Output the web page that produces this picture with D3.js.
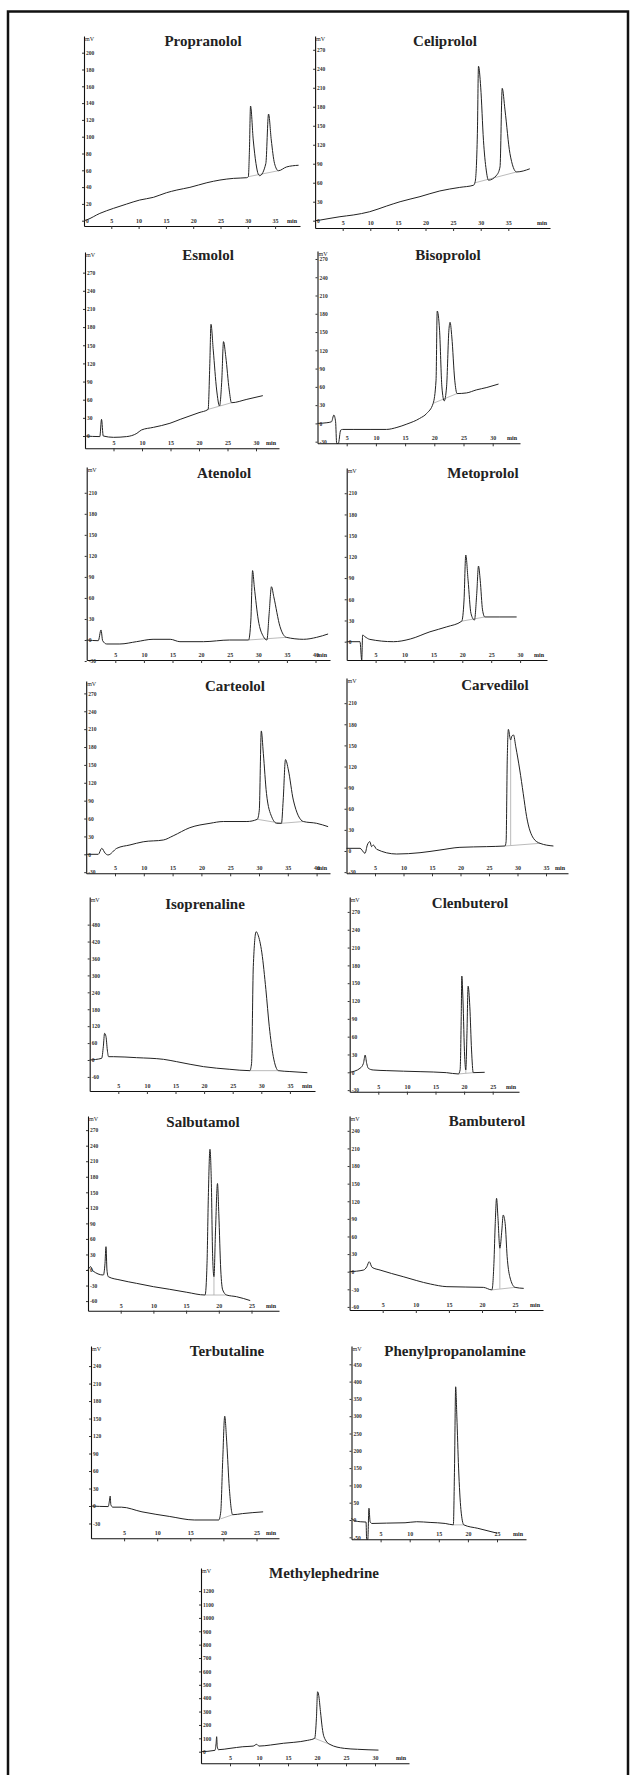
<!DOCTYPE html>
<html>
<head>
<meta charset="utf-8">
<script src="https://cdn.jsdelivr.net/npm/d3@7/dist/d3.min.js"></script>
<style>
body { margin: 0; background: #fff; }
svg text { font-family: "Liberation Serif", "DejaVu Serif", serif; }
</style>
</head>
<body>
<div id="chart"></div>
<script>
// retention time (min) / detector signal (mV)
var xTicks25 = [5, 10, 15, 20, 25];
var xTicks30 = [5, 10, 15, 20, 25, 30];
var xTicks35 = [5, 10, 15, 20, 25, 30, 35];
var xTicks40 = [5, 10, 15, 20, 25, 30, 35, 40];

var propranololY = [0, 20, 40, 60, 80, 100, 120, 140, 160, 180, 200];
var celiprololY = [0, 30, 60, 90, 120, 150, 180, 210, 240, 270];
var esmololY = [0, 30, 60, 90, 120, 150, 180, 210, 240, 270];
var bisoprololY = [-30, 0, 30, 60, 90, 120, 150, 180, 210, 240, 270];
var atenololY = [-30, 0, 30, 60, 90, 120, 150, 180, 210];
var metoprololY = [0, 30, 60, 90, 120, 150, 180, 210];
var carteololY = [-30, 0, 30, 60, 90, 120, 150, 180, 210, 240, 270];
var carvedilolY = [-30, 0, 30, 60, 90, 120, 150, 180, 210];
var isoprenalineY = [-60, 0, 60, 120, 180, 240, 300, 360, 420, 480];
var clenbuterolY = [-30, 0, 30, 60, 90, 120, 150, 180, 210, 240, 270];
var salbutamolY = [-60, -30, 0, 30, 60, 90, 120, 150, 180, 210, 240, 270];
var bambuterolY = [-60, -30, 0, 30, 60, 90, 120, 150, 180, 210, 240];
var terbutalineY = [-30, 0, 30, 60, 90, 120, 150, 180, 210, 240];
var phenylpropanolamineY = [-50, 0, 50, 100, 150, 200, 250, 300, 350, 400, 450];
var methylephedrineY = [0, 100, 200, 300, 400, 500, 600, 700, 800, 900, 1000, 1100, 1200];

var propranololTrace = [[0, 0], [0.5, 1], [2.9, 8.7], [5.4, 14.7], [7.8, 19.8], [10.2, 24.6], [12.7, 27.8],
  [15.1, 33.3], [17, 36.5], [19.4, 39.7], [22.5, 45.2], [24.9, 48.4], [27.4, 50.4], [29.8, 51.2],
  [30.1, 52.4], [30.3, 84], [30.5, 136.5], [31, 96], [31.5, 68], [31.9, 55.6], [32.2, 53.6],
  [33.3, 68], [33.8, 127], [34.3, 96], [34.9, 68], [35.6, 59.5], [37.1, 64], [39.3, 66]];
var celiprololTrace = [[0, 0], [0.9, 1], [2.7, 3.7], [4.5, 6.3], [6.9, 9], [9.9, 14.2], [12.9, 23],
  [15.4, 30], [19, 38], [22.6, 47], [26.2, 52.6], [28.7, 56], [29, 61.6], [29.4, 138], [29.6, 244],
  [30, 211], [30.5, 127], [31, 80], [31.4, 64], [32.9, 72], [33.5, 85], [33.9, 209], [34.4, 175],
  [35.3, 106], [36.5, 77], [38.9, 82]];
var esmololTrace = [[0, 0], [2.6, -1], [2.9, 27.5], [3.2, 0], [5, -2.2], [7.3, -1], [9.1, 4.4], [9.9, 9.9],
  [12, 14.3], [14.9, 21], [16.7, 27.5], [20, 38.6], [21.6, 44], [21.9, 120], [22.1, 184.6], [22.5, 142],
  [23.1, 76], [23.6, 49.6], [24, 92.6], [24.3, 156], [24.7, 131], [25.3, 76], [25.7, 55], [28.4, 60.6],
  [31.2, 66.7]];
var bisoprololTrace = [[0, 0], [1.6, 1.1], [2.4, 2.7], [2.8, 13.7], [3.1, 2.7], [3.28, -32.8], [3.57, -32.8],
  [3.97, -11], [4.3, -9.9], [6.1, -9.9], [9, -9.9], [11.8, -9.9], [13.6, -6.6], [15.3, -1.1], [17.5, 8.2],
  [18.7, 16.4], [19.8, 32.8], [20.3, 71], [20.5, 184.5], [20.9, 153], [21.3, 60], [21.7, 37], [22.1, 60],
  [22.5, 153], [22.7, 166], [23, 142], [23.5, 71], [23.9, 49], [25.5, 50], [27.2, 55], [29, 59], [31, 64.6]];
var atenololTrace = [[0, 0], [2.03, -1], [2.5, 14.3], [2.79, -1], [3.5, -5.7], [5.8, -5.7], [8.7, -2.4],
  [11.6, 1], [14.6, 1], [16.3, -2.4], [20.4, -2.4], [25, 0], [28.3, 0], [28.7, 28.5], [29, 99], [29.3, 76],
  [30, 28.5], [30.9, 4.8], [31.5, 0], [31.9, 38], [32.3, 76], [32.7, 62], [33.8, 19], [34.9, 3.8],
  [37.9, 1], [40.2, 3.8], [42.2, 8.6]];
var metoprololTrace = [[0, 0], [2.3, 0], [2.6, -26], [2.76, 9.4], [3.17, 7], [4, 3.3], [8.1, 0], [11, 3.8],
  [14.4, 14], [17.3, 21], [19.9, 29], [20.3, 59], [20.6, 122.6], [21, 87], [21.5, 40], [22.1, 30.6],
  [22.5, 68], [22.8, 107], [23.1, 87], [23.5, 45], [23.9, 35], [26.5, 35], [29.4, 35]];
var carteololTrace = [[0, 0], [2.1, 0], [2.7, 10], [3.3, 1.7], [3.8, -1.1], [5.3, 10], [7.6, 15.7], [9.9, 21],
  [13.4, 24], [15.1, 31], [18, 44.7], [21.5, 52], [23.8, 55], [27.9, 55], [29.7, 58.7], [30.05, 74],
  [30.4, 207], [30.75, 169.5], [31.3, 102], [32.2, 63], [33.1, 52], [33.9, 52], [34.2, 91], [34.6, 159],
  [35.1, 141.5], [35.96, 91], [37.7, 55], [40, 52], [42, 46.4]];
var carvedilolTrace = [[0, 3.8], [2.37, 3.8], [3.25, -3.3], [3.65, 8.5], [4.1, 13.3], [4.4, 6.2], [4.7, 8.5],
  [5.3, 2.4], [8.8, -4.3], [12.9, -2.4], [16.4, 1.4], [19.9, 5.2], [24.6, 6.2], [27.8, 7.1], [28, 13.3],
  [28.2, 129], [28.4, 172.8], [28.7, 160], [28.8, 157.7], [29, 163], [29.3, 164.8], [29.7, 148],
  [30.4, 115], [31, 82], [31.6, 48.8], [32.8, 18], [33.95, 10.9], [36.3, 7.1]];
var isoprenalineTrace = [[0, 0], [2.09, 5.9], [2.38, 47], [2.6, 94.6], [2.85, 82.7], [3.08, 35.5], [3.3, 11.8],
  [4.13, 11.8], [8.2, 8.3], [12.9, 2.4], [15.2, -5.9], [19.9, -23.6], [24.5, -33], [28, -37.8],
  [28.3, -11.8], [28.6, 331], [29.1, 455], [29.4, 445], [30.1, 380], [30.8, 250], [31.4, 118], [32.1, 11.8],
  [33, -37.8], [35, -41], [38.05, -45]];
var clenbuterolTrace = [[0, 0], [1.8, 6.7], [2.4, 15], [2.7, 29], [2.97, 15], [3.26, 6.7], [4.1, 3.9],
  [6.5, 2.8], [12.3, 1.1], [16.9, -0.6], [19, -2.8], [19.3, 3.9], [19.5, 93.7], [19.6, 162], [19.8, 122],
  [20.1, 26], [20.3, 3.9], [20.5, 65.7], [20.7, 145], [21, 110.5], [21.3, 37.6], [21.6, -0.6], [23.6, 0]];
var salbutamolTrace = [[0, 0], [0.41, 6.4], [0.71, -1.3], [2.35, -9.7], [2.6, 12.9], [2.75, 45], [2.9, 0],
  [3.1, -12.9], [4.9, -19.3], [7.4, -25.7], [10, -32.2], [12.5, -37.3], [15.1, -43], [17.9, -48.3],
  [18.2, 12.9], [18.4, 141.6], [18.65, 233], [18.85, 174], [19.06, 25.7], [19.26, -12.9], [19.5, 77],
  [19.8, 167], [20, 109], [20.3, 0], [20.6, -38.6], [21.2, -48.3], [22.7, -51.5], [24.8, -59]];
var bambuterolTrace = [[0, 0], [2.1, 2.8], [2.6, 8.5], [2.96, 17], [3.4, 7.4], [4.6, 2.8], [8.1, -8.5],
  [12.2, -21], [14.7, -25.5], [20.2, -26.7], [21.5, -31], [21.8, 14], [22, 82], [22.2, 125], [22.4, 94],
  [22.7, 40], [23, 71], [23.2, 96.5], [23.5, 82], [23.8, 25.5], [24.2, -8.5], [25, -26.7], [26.3, -28.4]];
var terbutalineTrace = [[0, 0], [2.6, -1], [2.8, 10], [2.9, 17], [3, 2], [3.3, -2], [4.6, -2], [7.7, -10],
  [11.9, -18], [15.6, -24], [19.3, -24], [19.6, -10], [19.9, 80], [20.2, 154], [20.5, 110], [20.9, 30],
  [21.4, -15], [22.9, -13], [26, -10]];
var phenylpropanolamineTrace = [[0, 5], [0.5, -2], [1.5, -5], [2.5, -6], [2.6, -56], [2.8, -56], [3, 34],
  [3.2, -5], [3.5, -10], [6, -9], [9.2, -8], [11.2, -5], [13.5, -7], [16.1, -10], [17.5, -14], [17.7, 150],
  [17.9, 385], [18.1, 300], [18.4, 150], [18.8, 30], [19.3, -14], [21.7, -24], [25, -38]];
var methylephedrineTrace = [[0, 0], [2.4, 10], [2.6, 60], [2.7, 112], [2.8, 40], [3, 15], [5, 25], [7.2, 37],
  [9, 42], [9.6, 55], [10, 42], [12, 50], [14.2, 63], [16, 70], [18.4, 85], [19.6, 100], [19.9, 250],
  [20.1, 448], [20.3, 420], [20.6, 300], [20.9, 180], [21.2, 112], [22.2, 55], [24.7, 25], [27, 18],
  [30.6, 12]];

// integration baselines [t1, mV1, t2, mV2] and peak drop lines [t, mV top, mV bottom]
var propranololBase = [[30.1, 52.4, 35.6, 59.5]];
var celiprololBase = [[29, 60, 36.5, 77]];
var esmololBase = [[21.6, 44, 25.7, 55]];
var bisoprololBase = [[19.8, 33, 23.9, 49]];
var atenololBase = [[28.3, 0, 34.9, 3.8]];
var metoprololBase = [[19.9, 29, 23.9, 35]];
var carteololBase = [[29.7, 58.7, 33.9, 52], [33.9, 52, 37.7, 55]];
var carvedilolBase = [[27.8, 7.1, 33.95, 10.9]];
var isoprenalineBase = [[28, -37.8, 33, -37.8]];
var clenbuterolBase = [[19, -2.8, 21.6, -0.6]];
var salbutamolBase = [[17.9, -48.3, 21.2, -48.3]];
var bambuterolBase = [[21.5, -31, 25, -26.7]];
var terbutalineBase = [[19.6, -22, 21.4, -15]];
var phenylpropanolamineBase = [[17.5, -14, 19.3, -14]];
var methylephedrineBase = [[19.6, 100, 22.2, 55]];
var carvedilolDrops = [[28.8, 157.7, 8]];
var clenbuterolDrops = [[20.3, 3.9, -1.8]];
var salbutamolDrops = [[19.26, -12.9, -48.3]];
var bambuterolDrops = [[22.7, 40, -29]];

// panel placement on the page (px)
var panels = [
  {title: "Propranolol", trace: propranololTrace, yTicks: propranololY, xTicks: xTicks35, base: propranololBase, drops: [],
    tx: 203, ty: 46, left: 84, ppm: 5.46, end: 300, zeroY: 220.7, ppv: 0.84, axisY: 226, top: 36},
  {title: "Celiprolol", trace: celiprololTrace, yTicks: celiprololY, xTicks: xTicks35, base: celiprololBase, drops: [],
    tx: 445, ty: 46, left: 315.1, ppm: 5.52, end: 550, zeroY: 220.7, ppv: 0.633, axisY: 228, top: 36},
  {title: "Esmolol", trace: esmololTrace, yTicks: esmololY, xTicks: xTicks30, base: esmololBase, drops: [],
    tx: 208, ty: 260, left: 85, ppm: 5.7, end: 279, zeroY: 436, ppv: 0.605, axisY: 448.3, top: 252},
  {title: "Bisoprolol", trace: bisoprololTrace, yTicks: bisoprololY, xTicks: xTicks30, base: bisoprololBase, drops: [],
    tx: 448, ty: 260, left: 317.5, ppm: 5.84, end: 520, zeroY: 423.4, ppv: 0.609, axisY: 443.3, top: 251},
  {title: "Atenolol", trace: atenololTrace, yTicks: atenololY, xTicks: xTicks40, base: atenololBase, drops: [],
    tx: 224, ty: 478, left: 86.7, ppm: 5.72, end: 330, zeroY: 640, ppv: 0.701, axisY: 660, top: 467},
  {title: "Metoprolol", trace: metoprololTrace, yTicks: metoprololY, xTicks: xTicks30, base: metoprololBase, drops: [],
    tx: 483, ty: 478, left: 346.7, ppm: 5.78, end: 547, zeroY: 641.7, ppv: 0.707, axisY: 660, top: 468},
  {title: "Carteolol", trace: carteololTrace, yTicks: carteololY, xTicks: xTicks40, base: carteololBase, drops: [],
    tx: 235, ty: 691, left: 86.2, ppm: 5.76, end: 330, zeroY: 854.3, ppv: 0.596, axisY: 873.3, top: 681},
  {title: "Carvedilol", trace: carvedilolTrace, yTicks: carvedilolY, xTicks: xTicks35, base: carvedilolBase, drops: carvedilolDrops,
    tx: 495, ty: 690, left: 346.5, ppm: 5.7, end: 568, zeroY: 851, ppv: 0.704, axisY: 873.3, top: 678},
  {title: "Isoprenaline", trace: isoprenalineTrace, yTicks: isoprenalineY, xTicks: xTicks35, base: isoprenalineBase, drops: [],
    tx: 205, ty: 909, left: 89.7, ppm: 5.72, end: 315, zeroY: 1060, ppv: 0.282, axisY: 1091, top: 897},
  {title: "Clenbuterol", trace: clenbuterolTrace, yTicks: clenbuterolY, xTicks: xTicks25, base: clenbuterolBase, drops: clenbuterolDrops,
    tx: 470, ty: 908, left: 349.7, ppm: 5.72, end: 519, zeroY: 1072.3, ppv: 0.594, axisY: 1091.7, top: 897},
  {title: "Salbutamol", trace: salbutamolTrace, yTicks: salbutamolY, xTicks: xTicks25, base: salbutamolBase, drops: salbutamolDrops,
    tx: 203, ty: 1127, left: 88, ppm: 6.54, end: 279, zeroY: 1270, ppv: 0.518, axisY: 1310.7, top: 1116},
  {title: "Bambuterol", trace: bambuterolTrace, yTicks: bambuterolY, xTicks: xTicks25, base: bambuterolBase, drops: bambuterolDrops,
    tx: 487, ty: 1126, left: 349.6, ppm: 6.62, end: 543, zeroY: 1271.7, ppv: 0.587, axisY: 1310, top: 1116},
  {title: "Terbutaline", trace: terbutalineTrace, yTicks: terbutalineY, xTicks: xTicks25, base: terbutalineBase, drops: [],
    tx: 227, ty: 1356, left: 91, ppm: 6.62, end: 279, zeroY: 1506, ppv: 0.583, axisY: 1538.3, top: 1346},
  {title: "Phenylpropanolamine", trace: phenylpropanolamineTrace, yTicks: phenylpropanolamineY, xTicks: xTicks25, base: phenylpropanolamineBase, drops: [],
    tx: 455, ty: 1356, left: 351.5, ppm: 5.82, end: 526, zeroY: 1520, ppv: 0.346, axisY: 1539.3, top: 1346},
  {title: "Methylephedrine", trace: methylephedrineTrace, yTicks: methylephedrineY, xTicks: xTicks30, base: methylephedrineBase, drops: [],
    tx: 324, ty: 1578, left: 201, ppm: 5.8, end: 409, zeroY: 1751.7, ppv: 0.1338, axisY: 1763.3, top: 1568}
];

var svg = d3.select("#chart").append("svg")
  .attr("width", 634).attr("height", 1775);

// page frame
svg.append("path")
  .attr("d", "M8,1780 L8,11.5 L628,11.5 L628,1780")
  .attr("fill", "none").attr("stroke", "#111").attr("stroke-width", 2.5);

panels.forEach(function(p) {
  var g = svg.append("g");
  var x = d3.scaleLinear().domain([0, (p.end - p.left) / p.ppm]).range([p.left, p.end]);
  var y = d3.scaleLinear()
    .domain([-(p.axisY - p.zeroY) / p.ppv, (p.zeroY - p.top) / p.ppv])
    .range([p.axisY, p.top]);

  var xAxis = g.append("g").attr("transform", "translate(0," + p.axisY + ")")
    .call(d3.axisBottom(x).tickValues(p.xTicks).tickSize(3).tickSizeOuter(0)
      .tickFormat(function(d) { return String(d); }));
  xAxis.selectAll("text").attr("y", -3).attr("dy", 0)
    .attr("font-size", 6).attr("font-weight", "bold")
    .attr("font-family", "Liberation Serif").attr("fill", "#333");
  xAxis.append("text").attr("x", p.end - 8).attr("y", -3)
    .attr("text-anchor", "middle").attr("font-size", 6).attr("font-weight", "bold")
    .attr("font-family", "Liberation Serif").attr("fill", "#222").text("min");

  var yAxis = g.append("g").attr("transform", "translate(" + p.left + ",0)")
    .call(d3.axisLeft(y).tickValues(p.yTicks).tickSize(2).tickSizeOuter(0)
      .tickFormat(function(d) { return String(d); }));
  yAxis.selectAll("text").attr("x", 2).attr("text-anchor", "start").attr("dy", "0.32em")
    .attr("font-size", 5.5).attr("font-weight", "bold")
    .attr("font-family", "Liberation Serif").attr("fill", "#333");
  g.selectAll(".domain").attr("stroke", "#111").attr("stroke-width", 1.1);
  g.selectAll(".tick line").attr("stroke", "#333");

  g.append("text").attr("x", p.left + 1).attr("y", p.top + 5)
    .attr("font-size", 6).attr("fill", "#222").text("mV");

  g.append("text").attr("x", p.tx).attr("y", p.ty)
    .attr("text-anchor", "middle").attr("font-size", 15).attr("font-weight", "bold")
    .attr("fill", "#222").text(p.title);

  g.selectAll(".base").data(p.base).enter().append("line")
    .attr("x1", function(d) { return x(d[0]); }).attr("y1", function(d) { return y(d[1]); })
    .attr("x2", function(d) { return x(d[2]); }).attr("y2", function(d) { return y(d[3]); })
    .attr("stroke", "#aaa").attr("stroke-width", 0.8);
  g.selectAll(".drop").data(p.drops).enter().append("line")
    .attr("x1", function(d) { return x(d[0]); }).attr("y1", function(d) { return y(d[1]); })
    .attr("x2", function(d) { return x(d[0]); }).attr("y2", function(d) { return y(d[2]); })
    .attr("stroke", "#aaa").attr("stroke-width", 0.8);

  var line = d3.line().x(function(d) { return x(d[0]); }).y(function(d) { return y(d[1]); })
    .curve(d3.curveMonotoneX);
  g.append("path").datum(p.trace).attr("d", line)
    .attr("fill", "none").attr("stroke", "#222").attr("stroke-width", 1);
});
</script>
</body>
</html>
